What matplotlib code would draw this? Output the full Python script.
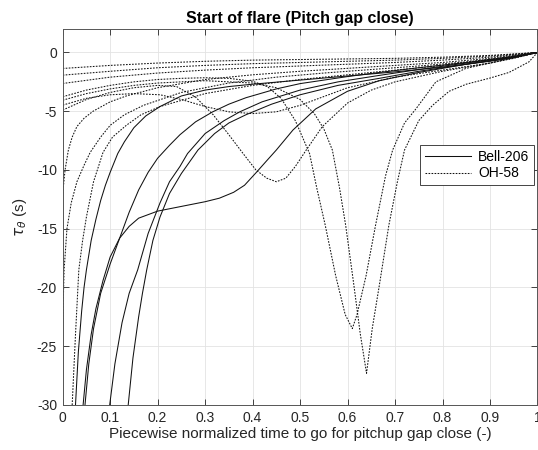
import matplotlib

matplotlib.use("Agg")
import matplotlib.pyplot as plt

# --- Bell-206 runs (solid) ---
bell_1_x = [0.027, 0.033, 0.04, 0.045, 0.05, 0.06, 0.07, 0.08, 0.09, 0.1, 0.116, 0.13, 0.15,
            0.175, 0.205, 0.25, 0.3, 0.35, 0.4, 0.5, 0.6, 0.7, 0.8, 0.9, 0.95, 1.0]
bell_1_y = [-30, -25.5, -22, -20, -18.5, -16, -14.2, -12.6, -11.3, -10.2, -8.6, -7.6, -6.4,
            -5.4, -4.6, -3.7, -3.2, -2.9, -2.7, -2.35, -2.0, -1.65, -1.25, -0.75, -0.45, 0]

bell_2_x = [0.043, 0.05, 0.06, 0.07, 0.085, 0.1, 0.12, 0.14, 0.16, 0.2, 0.25, 0.3, 0.33, 0.36,
            0.383, 0.408, 0.43, 0.45, 0.485, 0.533, 0.6, 0.667, 0.75, 0.85, 0.95, 1.0]
bell_2_y = [-30, -27, -24, -21.8, -19.4, -17.4, -15.8, -14.8, -14.1, -13.5, -13.1, -12.7, -12.4,
            -11.9, -11.3, -10.2, -9.2, -8.3, -6.6, -4.8, -3.3, -2.4, -1.7, -1.0, -0.4, 0]

bell_3_x = [0.047, 0.055, 0.065, 0.08, 0.1, 0.12, 0.14, 0.16, 0.18, 0.2, 0.225, 0.247, 0.28,
            0.316, 0.35, 0.386, 0.45, 0.5, 0.6, 0.667, 0.75, 0.85, 0.95, 1.0]
bell_3_y = [-30, -26.5, -23.5, -20.5, -18.0, -15.8, -13.6, -11.7, -10.2, -9.0, -7.9, -7.0, -5.9,
            -5.05, -4.4, -3.85, -3.1, -2.65, -2.05, -1.7, -1.3, -0.85, -0.35, 0]

bell_4_x = [0.099, 0.11, 0.125, 0.14, 0.158, 0.18, 0.205, 0.225, 0.247, 0.263, 0.3, 0.34, 0.373,
            0.42, 0.5, 0.58, 0.667, 0.75, 0.85, 0.95, 1.0]
bell_4_y = [-30, -26.5, -23, -20.5, -18.5, -15.4, -12.8, -11.0, -9.7, -8.6, -6.9, -5.8, -5.05,
            -4.2, -3.2, -2.5, -1.95, -1.45, -0.9, -0.35, 0]

bell_5_x = [0.138, 0.148, 0.16, 0.168, 0.177, 0.19, 0.205, 0.225, 0.25, 0.285, 0.32, 0.35, 0.386,
            0.44, 0.5, 0.58, 0.667, 0.75, 0.85, 0.95, 1.0]
bell_5_y = [-30, -26, -22.5, -20.5, -18.5, -16.0, -14.0, -12.0, -10.3, -8.3, -6.9, -6.0, -5.3,
            -4.4, -3.6, -2.8, -2.2, -1.6, -1.0, -0.4, 0]

# --- OH-58 runs (dotted) ---
oh_1_x = [0, 0.1, 0.2, 0.3, 0.4, 0.5, 0.6, 0.7, 0.8, 0.9, 1.0]
oh_1_y = [-1.36, -1.1, -0.9, -0.75, -0.65, -0.6, -0.55, -0.5, -0.4, -0.25, 0]

oh_2_x = [0, 0.1, 0.2, 0.3, 0.4, 0.5, 0.6, 0.7, 0.8, 0.9, 1.0]
oh_2_y = [-1.93, -1.6, -1.3, -1.1, -0.95, -0.85, -0.75, -0.65, -0.5, -0.3, 0]

oh_3_x = [0, 0.1, 0.2, 0.3, 0.4, 0.5, 0.6, 0.7, 0.8, 0.9, 1.0]
oh_3_y = [-2.64, -2.1, -1.75, -1.5, -1.3, -1.15, -1.0, -0.85, -0.65, -0.4, 0]

oh_4_x = [0, 0.05, 0.1, 0.15, 0.2, 0.25, 0.3, 0.35, 0.4, 0.431, 0.46, 0.49, 0.52, 0.535, 0.553,
          0.575, 0.595, 0.61, 0.62, 0.639, 0.659, 0.68, 0.695, 0.72, 0.744, 0.786, 0.849, 0.9,
          0.95, 1.0]
oh_4_y = [-3.77, -3.2, -2.8, -2.5, -2.3, -2.2, -2.15, -2.2, -2.45, -2.9, -3.9, -5.8, -8.6, -11.5,
          -14.7, -19.0, -22.3, -23.5, -22.3, -19.0, -14.7, -10.5, -8.3, -6.0, -4.8, -2.5, -1.36,
          -0.9, -0.5, 0]

oh_5_x = [0, 0.05, 0.1, 0.15, 0.2, 0.3, 0.4, 0.45, 0.5, 0.53, 0.55, 0.568, 0.583, 0.596, 0.612,
          0.627, 0.64, 0.652, 0.667, 0.687, 0.705, 0.72, 0.75, 0.779, 0.814, 0.85, 0.898, 0.94,
          0.982, 1.0]
oh_5_y = [-4.06, -3.5, -3.1, -2.8, -2.6, -2.4, -2.6, -3.0, -4.0, -5.2, -6.5, -8.3, -11.5, -14.7,
          -19.4, -24.0, -27.3, -23.5, -19.8, -14.7, -11.0, -8.3, -5.8, -4.5, -3.3, -2.7, -2.2,
          -1.7, -0.8, 0]

oh_6_x = [0, 0.05, 0.1, 0.15, 0.205, 0.25, 0.3, 0.35, 0.4, 0.45, 0.5, 0.56, 0.6, 0.7, 0.8, 0.9, 1.0]
oh_6_y = [-4.48, -3.9, -3.6, -3.5, -3.6, -4.0, -4.6, -5.05, -5.2, -5.05, -4.5, -3.6, -3.0, -2.1,
          -1.5, -0.9, 0]

oh_7_x = [0, 0.05, 0.1, 0.15, 0.2, 0.24, 0.28, 0.317, 0.35, 0.38, 0.407, 0.43, 0.45, 0.47, 0.49,
          0.513, 0.547, 0.6, 0.65, 0.7, 0.8, 0.9, 1.0]
oh_7_y = [-4.9, -4.0, -3.4, -3.0, -2.8, -2.9, -3.8, -5.3, -7.0, -8.6, -10.0, -10.7, -11.0, -10.7,
          -9.7, -8.3, -6.3, -4.3, -3.2, -2.5, -1.6, -0.9, 0]

oh_8_x = [0, 0.005, 0.012, 0.02, 0.03, 0.045, 0.064, 0.1, 0.134, 0.2, 0.3, 0.4, 0.5, 0.6, 0.7,
          0.8, 0.9, 1.0]
oh_8_y = [-12, -10, -8.3, -7.2, -6.3, -5.6, -5.0, -4.2, -3.7, -3.0, -2.3, -1.9, -1.6, -1.35, -1.1,
          -0.85, -0.5, 0]

oh_9_x = [0, 0.003, 0.009, 0.018, 0.03, 0.045, 0.058, 0.08, 0.1, 0.13, 0.17, 0.25, 0.35, 0.45,
          0.55, 0.65, 0.75, 0.85, 0.93, 1.0]
oh_9_y = [-23, -18.5, -15, -12.8, -11, -9.6, -8.5, -7.2, -6.2, -5.3, -4.5, -3.4, -2.6, -2.1,
          -1.75, -1.45, -1.15, -0.8, -0.45, 0]

oh_10_x = [0.02, 0.027, 0.034, 0.042, 0.05, 0.065, 0.085, 0.105, 0.134, 0.165, 0.205, 0.3, 0.4,
           0.5, 0.6, 0.7, 0.8, 0.9, 1.0]
oh_10_y = [-30, -24, -18.5, -16, -14, -11, -8.5, -7.2, -6.2, -5.3, -4.6, -3.5, -2.8, -2.3, -1.9,
           -1.5, -1.1, -0.6, 0]

bell_runs = [(bell_1_x, bell_1_y), (bell_2_x, bell_2_y), (bell_3_x, bell_3_y),
             (bell_4_x, bell_4_y), (bell_5_x, bell_5_y)]
oh_runs = [(oh_1_x, oh_1_y), (oh_2_x, oh_2_y), (oh_3_x, oh_3_y), (oh_4_x, oh_4_y),
           (oh_5_x, oh_5_y), (oh_6_x, oh_6_y), (oh_7_x, oh_7_y), (oh_8_x, oh_8_y),
           (oh_9_x, oh_9_y), (oh_10_x, oh_10_y)]

x_ticks = [0, 0.1, 0.2, 0.3, 0.4, 0.5, 0.6, 0.7, 0.8, 0.9, 1]
x_tick_labels = ["0", "0.1", "0.2", "0.3", "0.4", "0.5", "0.6", "0.7", "0.8", "0.9", "1"]
y_ticks = [-30, -25, -20, -15, -10, -5, 0]

plt.rcParams["font.family"] = ["Liberation Sans", "DejaVu Sans"]
plt.rcParams["axes.unicode_minus"] = False

fig = plt.figure(figsize=(5.38, 4.5), dpi=100)
ax = fig.add_axes([0.1165, 0.1, 0.8825, 0.8356])

DOT = (0, (1.6, 1.3))

for i, (xs, ys) in enumerate(bell_runs):
    ax.plot(xs, ys, color="#111111", linewidth=0.75, label="Bell-206" if i == 0 else None)
for i, (xs, ys) in enumerate(oh_runs):
    ax.plot(xs, ys, color="#111111", linewidth=0.75, linestyle=DOT,
            label="OH-58" if i == 0 else None)

ax.set_xlim(0, 1)
ax.set_ylim(-30, 2)
ax.set_xticks(x_ticks)
ax.set_xticklabels(x_tick_labels)
ax.set_yticks(y_ticks)

ax.grid(True, color="#e3e3e3", linewidth=0.6)
ax.set_axisbelow(True)
ax.tick_params(direction="in", top=True, right=True, length=4, width=0.6,
               labelsize=10, colors="#262626", pad=4)
for sp in ax.spines.values():
    sp.set_color("#555555")
    sp.set_linewidth(0.7)

ax.set_title("Start of flare (Pitch gap close)", fontsize=11.5, fontweight="bold", pad=4)
ax.set_xlabel("Piecewise normalized time to go for pitchup gap close (-)", fontsize=11,
              color="#262626", labelpad=2)
ax.set_ylabel(r"$\tau_\theta$ (s)", fontsize=11, color="#262626", labelpad=6)

leg = ax.legend(loc="upper right", bbox_to_anchor=(0.993, 0.692), fontsize=10,
                handlelength=3.3, fancybox=False, framealpha=1, borderpad=0.35,
                labelspacing=0.2, handletextpad=0.5, borderaxespad=0)
leg.get_frame().set_edgecolor("#262626")
leg.get_frame().set_linewidth(0.6)

fig.savefig("out.png", dpi=100)
